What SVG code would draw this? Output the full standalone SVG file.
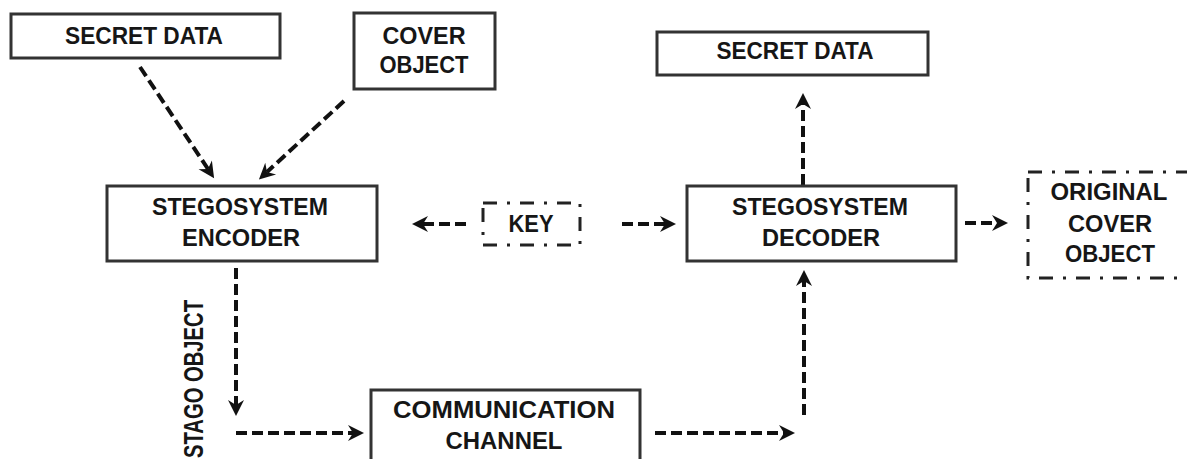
<svg xmlns="http://www.w3.org/2000/svg" width="1187" height="459" viewBox="0 0 1187 459">
  <style>
    .box { fill: #ffffff; stroke: #333333; stroke-width: 3; }
    .dashbox { fill: none; stroke: #222222; stroke-width: 3; stroke-dasharray: 14 10 3 10; }
    .lbl { font-family: "Liberation Sans", Arial, sans-serif; font-weight: bold; font-size: 23px; fill: #161616; text-anchor: middle; }
    .flow { fill: none; stroke: #111111; stroke-width: 4; stroke-dasharray: 11 5; marker-end: url(#head); }
  </style>
  <defs>
    <marker id="head" markerUnits="userSpaceOnUse" viewBox="-6 -9 18 18" markerWidth="18" markerHeight="18" refX="0" refY="0" orient="auto" overflow="visible">
      <path d="M-5,-8 L11,0 L-5,8 L0,0 Z" fill="#111111"/>
    </marker>
  </defs>

  <rect width="1187" height="459" fill="#ffffff"/>

  <!-- connectors -->
  <g id="connectors">
    <path class="flow" d="M140,67 L208,169"/>
    <path class="flow" d="M344,101 L267,172"/>
    <path class="flow" d="M236,268 L236,405"/>
    <path class="flow" d="M236,433 L353,433"/>
    <path class="flow" d="M655,433 L784,433"/>
    <path class="flow" d="M804,415 L804,281"/>
    <path class="flow" d="M803,185 L803,104"/>
    <path class="flow" d="M466,224 L423,224"/>
    <path class="flow" d="M622,224 L665,224"/>
    <path class="flow" d="M965,223 L997,223"/>
  </g>

  <g id="secret-data-in">
    <rect class="box" x="11" y="14" width="269" height="44"/>
    <text class="lbl" x="144" y="44" textLength="158" lengthAdjust="spacingAndGlyphs">SECRET DATA</text>
  </g>

  <g id="cover-object">
    <rect class="box" x="354" y="13" width="141" height="76"/>
    <text class="lbl" x="424" y="44" textLength="83" lengthAdjust="spacingAndGlyphs">COVER</text>
    <text class="lbl" x="424" y="73" textLength="89" lengthAdjust="spacingAndGlyphs">OBJECT</text>
  </g>

  <g id="encoder">
    <rect class="box" x="107" y="186" width="270" height="75"/>
    <text class="lbl" x="240" y="215" textLength="176" lengthAdjust="spacingAndGlyphs">STEGOSYSTEM</text>
    <text class="lbl" x="241" y="246" textLength="118" lengthAdjust="spacingAndGlyphs">ENCODER</text>
  </g>

  <g id="key">
    <rect class="dashbox" x="483" y="203" width="97" height="42"/>
    <text class="lbl" x="531" y="232" textLength="45" lengthAdjust="spacingAndGlyphs">KEY</text>
  </g>

  <g id="secret-data-out">
    <rect class="box" x="657" y="32" width="271" height="43"/>
    <text class="lbl" x="795" y="59" textLength="157" lengthAdjust="spacingAndGlyphs">SECRET DATA</text>
  </g>

  <g id="decoder">
    <rect class="box" x="687" y="186" width="269" height="75"/>
    <text class="lbl" x="820" y="215" textLength="176" lengthAdjust="spacingAndGlyphs">STEGOSYSTEM</text>
    <text class="lbl" x="821" y="246" textLength="118" lengthAdjust="spacingAndGlyphs">DECODER</text>
  </g>

  <g id="original-cover">
    <rect class="dashbox" x="1028" y="172" width="200" height="106"/>
    <text class="lbl" x="1109" y="200" textLength="117" lengthAdjust="spacingAndGlyphs">ORIGINAL</text>
    <text class="lbl" x="1110" y="232" textLength="84" lengthAdjust="spacingAndGlyphs">COVER</text>
    <text class="lbl" x="1110" y="262" textLength="90" lengthAdjust="spacingAndGlyphs">OBJECT</text>
  </g>

  <g id="channel">
    <rect class="box" x="371" y="390" width="269" height="90"/>
    <text class="lbl" x="504" y="418" textLength="222" lengthAdjust="spacingAndGlyphs">COMMUNICATION</text>
    <text class="lbl" x="504" y="449" textLength="117" lengthAdjust="spacingAndGlyphs">CHANNEL</text>
  </g>

  <g id="stago-label">
    <text class="lbl" transform="translate(203,379) rotate(-90)" x="0" y="0" style="font-size:27px" textLength="158" lengthAdjust="spacingAndGlyphs">STAGO OBJECT</text>
  </g>
</svg>
